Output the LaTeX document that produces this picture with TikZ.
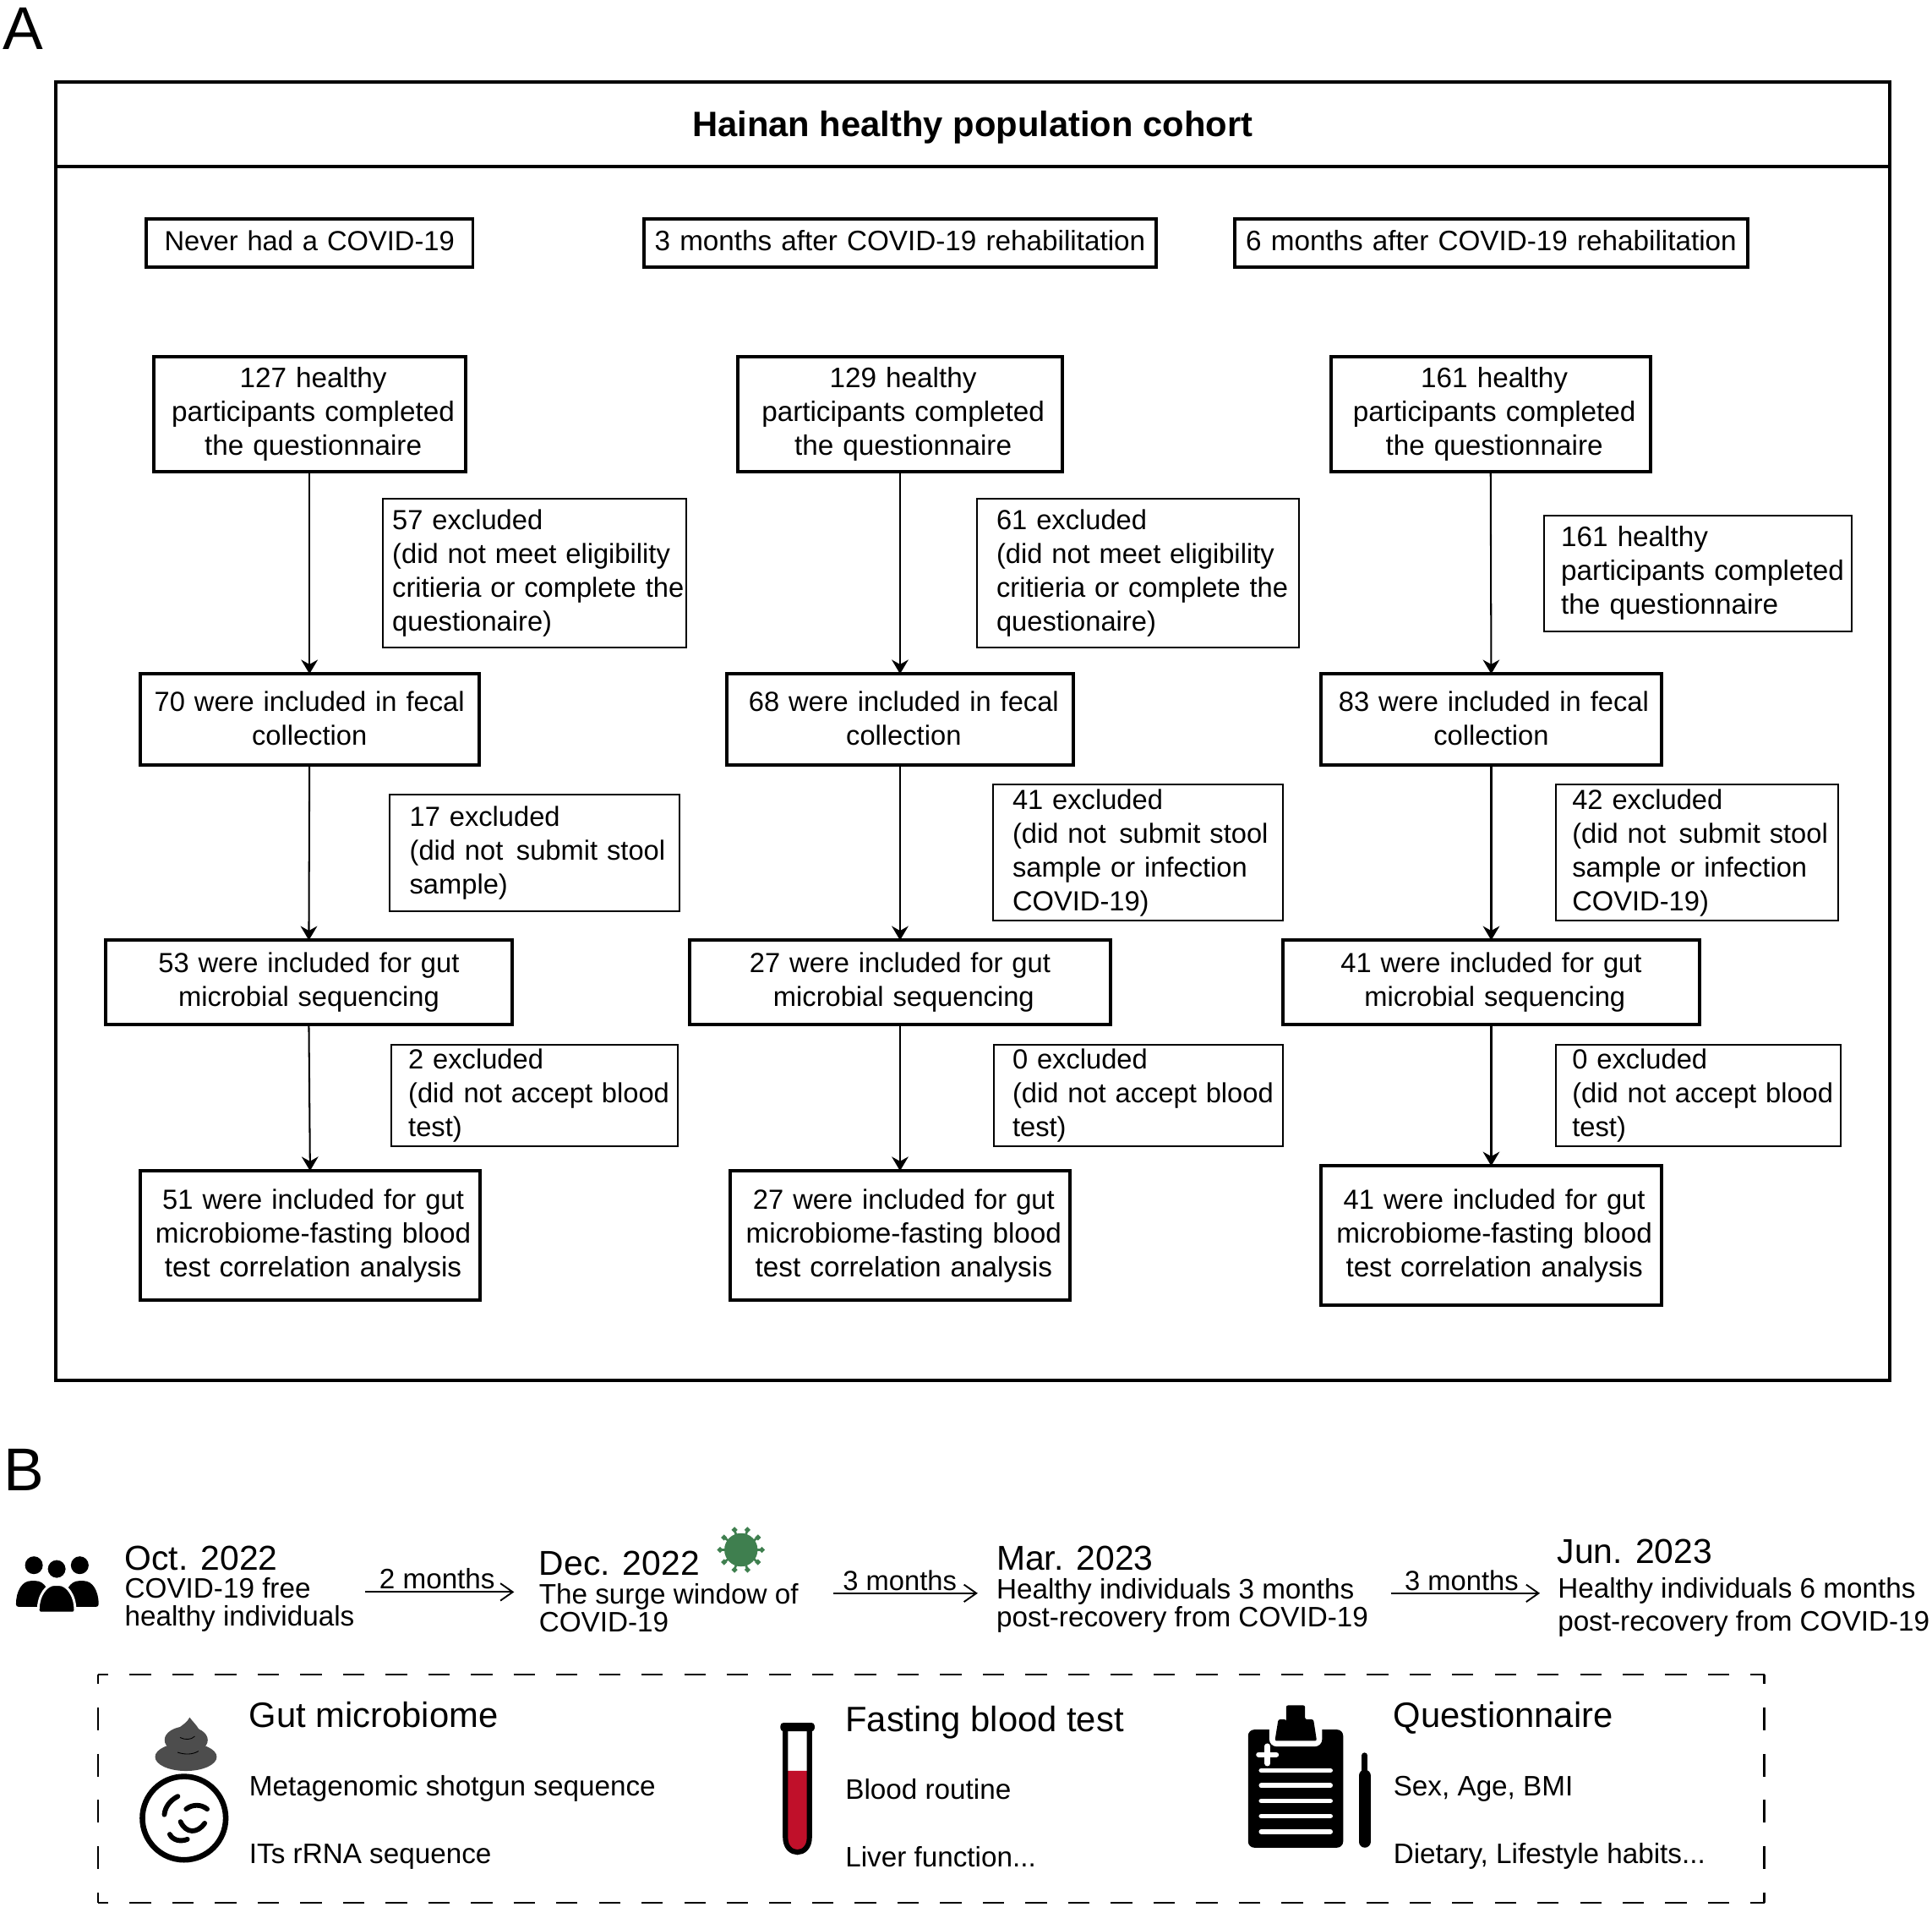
\documentclass[tikz,border=0pt]{standalone}
\usepackage{fontspec}
\setmainfont{Liberation Sans}
\usetikzlibrary{arrows.meta}
\definecolor{virusgreen}{HTML}{3F7F4F}
\definecolor{bloodred}{HTML}{C0102A}
\definecolor{stoolgray}{HTML}{4D4D4D}
\newcommand{\tightline}[1]{{\fontsize{22.4}{27.4}\selectfont #1}}
\tikzset{
  bodyfont/.style={font=\fontsize{22.8}{27.4}\selectfont},
  tightfont/.style={font=\fontsize{22.4}{27.4}\selectfont},
  mainbox/.style n args={3}{draw,line width=2.7pt,bodyfont,outer sep=0pt,inner xsep=0pt,inner ysep=0pt,
    text width=#1-1pt,minimum height=#2-1pt,execute at begin node={\centering\leftskip=#3 plus 1fil}},
  exclbox/.style n args={3}{draw,line width=1.4pt,tightfont,outer sep=0pt,inner xsep=0pt,inner ysep=0pt,
    text width=#1-.4pt,minimum height=#2-.4pt,execute at begin node={\raggedright\leftskip=#3}},
  flow/.style={line width=1.4pt,-{Stealth[length=11.5pt,width=13.5pt]}},
  panel/.style={inner sep=0pt,anchor=base west,font=\fontsize{49}{49}\selectfont},
  datetext/.style={inner sep=0pt,anchor=base west,font=\fontsize{28}{30}\selectfont},
  headtext/.style={inner sep=0pt,anchor=base west,font=\fontsize{28.6}{30}\selectfont},
  desctext/.style={inner sep=0pt,anchor=base west,align=left,font=\fontsize{22.8}{22.6}\selectfont},
  itemtext/.style={inner sep=0pt,anchor=base west,font=\fontsize{22.8}{27}\selectfont},
  span/.style={line width=1.3pt,-{Straight Barb[length=10pt,width=14pt]}},
  spanlabel/.style={above,inner sep=1.5pt,tightfont},
  whiteline/.style={white,line width=4pt,line cap=round},
  dashline/.style={line width=1.6pt},
}
\begin{document}
\begin{tikzpicture}[x=1pt,y=-1pt]
\useasboundingbox (0,0) rectangle (1567,1545.8);
\node[panel] (panelA) at (2,40) {A};
\node[panel] (panelB) at (3,1209) {B};

% cohort frame
\node[draw,line width=2.7pt,outer sep=0pt,inner sep=0pt,minimum width=1487.5pt,minimum height=68.5pt,text height=25.7pt,font=\fontsize{28.6}{30}\selectfont\bfseries] (cohort) at (788.75,100.8) {Hainan healthy population cohort};
\node[draw,line width=2.7pt,outer sep=0pt,inner sep=0pt,minimum width=1487.5pt,minimum height=984.5pt] (frame) at (788.75,627.3) {};

% groups
\node[mainbox={266pt}{40pt}{0pt},tightfont,text depth=4pt] (g1) at (251,197) {Never had a COVID-19};
\node[mainbox={416pt}{40pt}{0pt},text depth=4pt] (g2) at (730,197) {3 months after COVID-19 rehabilitation};
\node[mainbox={417pt}{40pt}{0pt},text depth=4pt] (g3) at (1209.5,197) {6 months after COVID-19 rehabilitation};

% first column
\node[mainbox={254pt}{94pt}{6pt}] (q1) at (251,336) {127 healthy\\participants completed\\the questionnaire};
\node[exclbox={247pt}{121pt}{8pt}] (e1) at (433.5,464.5) {57 excluded\\(did not meet eligibility\\critieria or complete the\\questionaire)};
\node[mainbox={276pt}{75pt}{0pt},tightfont,text depth=30pt] (f1) at (251,583.5) {70 were included in fecal\\collection};
\node[exclbox={235pt}{95pt}{16pt}] (x1) at (433.5,691.5) {17 excluded\\(did not\hspace{3.2pt} submit stool\\sample)};
\node[mainbox={331pt}{69pt}{0pt},tightfont] (s1) at (250.5,796.5) {53 were included for gut\\microbial sequencing};
\node[exclbox={233pt}{83pt}{14pt}] (b1) at (433.5,888.5) {2 excluded\\(did not accept blood\\test)};
\node[mainbox={277pt}{106pt}{5pt}] (c1) at (251.5,1002) {\tightline{51 were included for gut}\\microbiome-fasting blood\\test correlation analysis};

% second column
\node[mainbox={264pt}{94pt}{5pt}] (q2) at (730,336) {129 healthy\\participants completed\\the questionnaire};
\node[exclbox={262pt}{121pt}{16pt}] (e2) at (923,464.5) {61 excluded\\(did not meet eligibility\\critieria or complete the\\questionaire)};
\node[mainbox={282pt}{75pt}{6pt},tightfont,text depth=30pt] (f2) at (730,583.5) {68 were included in fecal\\collection};
\node[exclbox={236pt}{111pt}{16pt}] (x2) at (923,691.5) {41 excluded\\(did not\hspace{3.2pt} submit stool\\sample or infection\\COVID-19)};
\node[mainbox={342pt}{69pt}{6pt},tightfont] (s2) at (730,796.5) {27 were included for gut\hspace*{6pt}\mbox{}\\microbial sequencing};
\node[exclbox={235pt}{83pt}{15pt}] (b2) at (923.5,888.5) {0 excluded\\(did not accept blood\\test)};
\node[mainbox={276pt}{106pt}{6pt}] (c2) at (730,1002) {\tightline{27 were included for gut}\\microbiome-fasting blood\\test correlation analysis};

% third column
\node[mainbox={260pt}{94pt}{6pt}] (q3) at (1209,336) {161 healthy\\participants completed\\the questionnaire};
\node[exclbox={250pt}{94pt}{14pt},bodyfont] (e3) at (1377,465) {161 healthy\\participants completed\\the questionnaire};
\node[mainbox={277pt}{75pt}{0pt},tightfont,text depth=30pt] (f3) at (1209.5,583.5) {\hspace*{4pt}\mbox{}83 were included in fecal\\collection};
\node[exclbox={229pt}{111pt}{13pt}] (x3) at (1376.5,691.5) {42 excluded\\(did not\hspace{3.2pt} submit stool\\sample or infection\\COVID-19)};
\node[mainbox={339pt}{69pt}{6pt},tightfont] (s3) at (1209.5,796.5) {41 were included for gut\hspace*{6pt}\mbox{}\\microbial sequencing};
\node[exclbox={231pt}{83pt}{13pt}] (b3) at (1377.5,888.5) {0 excluded\\(did not accept blood\\test)};
\node[mainbox={277pt}{114pt}{5pt}] (c3) at (1209.5,1002) {\tightline{41 were included for gut}\\microbiome-fasting blood\\test correlation analysis};

\foreach \col in {1,2,3} {
  \draw[flow] (q\col.south) -- (f\col.north);
  \draw[flow] (f\col.south) -- (s\col.north);
  \draw[flow] (s\col.south) -- (c\col.north);
}

% timeline
\node[datetext] (oct) at (101,1273) {Oct. 2022};
\node[desctext] (octtext) at (101,1318.5) {COVID-19 free\\healthy individuals};
\node[datetext] (dec) at (437,1277.5) {Dec. 2022};
\node[desctext] (dectext) at (437,1323) {The surge window of\\COVID-19};
\node[datetext] (mar) at (808,1273) {Mar. 2023};
\node[desctext] (martext) at (808,1319.5) {Healthy individuals 3 months\\post-recovery from COVID-19};
\node[datetext] (jun) at (1263,1267.5) {Jun. 2023};
\node[desctext,font=\fontsize{22.8}{26.7}\selectfont] (juntext) at (1263.3,1322.3) {Healthy individuals 6 months\\post-recovery from COVID-19};

\coordinate (a1) at (296,1291);\coordinate (a2) at (417,1291);
\coordinate (a3) at (676,1292);\coordinate (a4) at (793,1292);
\coordinate (a5) at (1128,1292);\coordinate (a6) at (1249,1292);
\draw[span] (a1) -- node[spanlabel,bodyfont,pos=.484] (gap1) {2 months} (a2);
\draw[span] (a3) -- node[spanlabel,pos=.46] (gap2) {3 months} (a4);
\draw[span] (a5) -- node[spanlabel,pos=.475] (gap3) {3 months} (a6);

% people
\fill (27.5,1269.3) circle (7.2) (64.7,1269.3) circle (7.2);
\fill[rounded corners=2pt] (13,1303) .. controls (13,1290) and (18,1282) .. (27,1282) .. controls (36,1282) and (41,1290) .. (41,1303) -- cycle;
\fill[rounded corners=2pt] (52,1303) .. controls (52,1290) and (57,1282) .. (66,1282) .. controls (75,1282) and (80,1290) .. (80,1303) -- cycle;
\draw[white,line width=2pt,fill=black,rounded corners=2pt] (31,1308) .. controls (31,1293) and (38,1285) .. (46,1285) .. controls (54,1285) and (61,1293) .. (61,1308) -- cycle;
\draw[white,line width=1.5pt,fill=black] (46,1272.3) circle (8);

% virus
\foreach \ang in {0,36,...,324}
  \draw[virusgreen,line width=1.8pt] (601,1256.8) -- ++(\ang:17) circle (1.2);
\fill[virusgreen] (601,1256.8) circle (13.5);

% dashed box
\draw[dashline,dash pattern=on 17.4pt off 17.2pt,dash phase=9pt] (79.5,1358) -- (1431,1358);
\draw[dashline,dash pattern=on 17.4pt off 17.2pt,dash phase=9pt] (79.5,1543) -- (1431,1543);
\draw[dashline,dash pattern=on 18.5pt off 19pt,dash phase=10.8pt] (79.5,1358) -- (79.5,1543);
\draw[dashline,dash pattern=on 18.5pt off 19pt,dash phase=10.8pt] (1431,1358) -- (1431,1543);
\node[headtext] (guthead) at (202,1401) {Gut microbiome};
\node[itemtext] (gut1) at (202,1456) {Metagenomic shotgun sequence};
\node[itemtext] (gut2) at (202,1511) {ITs rRNA sequence};
\node[headtext] (bloodhead) at (685.5,1404.5) {Fasting blood test};
\node[itemtext] (blood1) at (685.5,1459) {Blood routine};
\node[itemtext] (blood2) at (685.5,1514) {Liver function...};
\node[headtext] (qhead) at (1130,1401) {Questionnaire};
\node[itemtext] (q1item) at (1130,1456) {Sex, Age, BMI};
\node[itemtext] (q2item) at (1130,1511) {Dietary, Lifestyle habits...};

% stool
\fill[stoolgray] (150.8,1424.7) ellipse (25 and 11.4);
\fill[stoolgray] (151,1411) ellipse (17.5 and 11);
\fill[stoolgray] (141,1408) .. controls (141,1401) and (150,1400) .. (153.8,1392.7) .. controls (157,1397) and (163,1402) .. (163,1408) -- cycle;
\draw[black,line width=.6pt] (144,1421) .. controls (150,1423) and (156,1423) .. (161,1420);
\draw[black,line width=.6pt] (146,1409) .. controls (150,1411) and (155,1411) .. (158,1408);

% dish
\draw[line width=4.5pt] (149.3,1474.4) circle (33.8);
\draw[line width=4pt,line cap=round] (144.2,1456.7) .. controls (138,1460) and (134,1465) .. (133.3,1471.5);
\draw[line width=4pt,line cap=round] (151,1467) .. controls (156,1463) and (163,1463) .. (168,1467);
\draw[line width=4pt,line cap=round] (146.4,1477.3) .. controls (151,1487) and (160,1487) .. (166,1478.5);
\draw[line width=4pt,line cap=round] (137.7,1487.5) .. controls (140,1492) and (146,1494) .. (152,1491.5);

% tube
\fill[bloodred] (637,1436) -- (656.5,1436) -- (656.5,1490) .. controls (656.5,1505) and (637,1505) .. (637,1490) -- cycle;
\draw[line width=4.2pt] (637,1400) -- (637,1490) .. controls (637,1506) and (656.5,1506) .. (656.5,1490) -- (656.5,1400);
\fill[rounded corners=2.5pt] (633,1397) rectangle (660.7,1404);

% clipboard
\fill[rounded corners=5pt] (1012.3,1402.6) rectangle (1089.4,1498.3);
\fill[white,rounded corners=6pt] (1029.5,1396) rectangle (1072.3,1416.3);
\fill[rounded corners=1.5pt] (1043.2,1396) -- (1043.2,1382.9) -- (1058.5,1382.9) -- (1058.5,1394.3) -- (1065.3,1394.3) -- (1068,1411.7) -- (1034,1411.7) -- (1036.8,1394.3) -- (1043.2,1394.3) -- cycle;
\draw[whiteline,line width=4.5pt] (1021,1422.9) -- (1035,1422.9) (1028,1416) -- (1028,1430);
\foreach \yy in {1435.7,1448,1460.4,1472.7,1485.3}
  \draw[whiteline] (1023,\yy) -- (1079,\yy);
\draw[line width=9.8pt,line cap=round] (1106.9,1440) -- (1106.9,1493.4);
\draw[line width=4.6pt,line cap=round] (1106.9,1423.5) -- (1106.9,1437);
\end{tikzpicture}
\end{document}
